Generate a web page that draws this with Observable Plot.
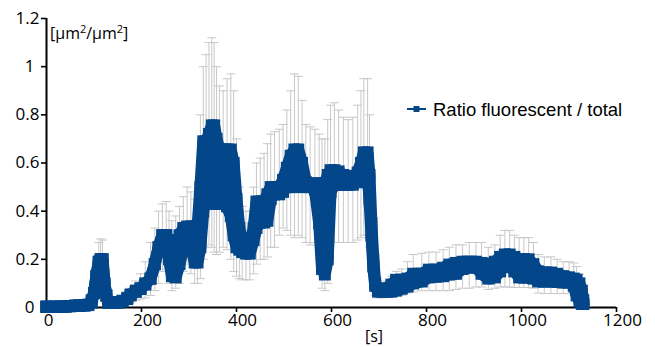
<!DOCTYPE html>
<html><head><meta charset="utf-8">
<script src="https://cdn.jsdelivr.net/npm/d3@7"></script>
<script src="https://cdn.jsdelivr.net/npm/@observablehq/plot@0.6"></script>
<style>
body{margin:0;background:#fff;}
#chart{position:relative;width:655px;height:347px;}
</style></head><body><div id="chart"></div>
<script>
// time [s]
const times = [0,10,20,30,40,50,60,70,80,88,95,100,105,110,114,118,122,126,130,140,150,160,170,177,188,198,208,219,228,236,244,252,258,264,272,280,288,296,304,312,318,324,330,336,342,348,353,358,364,372,380,388,394,400,406,412,420,428,436,442,450,458,465,472,480,490,498,506,514,522,530,538,546,555,565,574,580,586,592,598,606,615,625,635,645,655,662,668,676,680,684,688,692,698,706,716,726,736,748,760,772,790,805,820,835,848,862,876,890,904,916,930,944,955,965,975,985,995,1005,1015,1025,1035,1048,1062,1075,1088,1100,1110,1116,1122,1127,1130];
// lower and upper envelope of the plotted ratio series
const lows = [0.003,0.003,0.003,0.003,0.004,0.005,0.007,0.008,0.008,0.01,0.02,0.06,0.13,0.19,0.2,0.2,0.1,0.05,0.02,0.02,0.02,0.025,0.035,0.05,0.065,0.077,0.095,0.12,0.18,0.25,0.3,0.3,0.2,0.13,0.125,0.18,0.25,0.3,0.26,0.187,0.187,0.25,0.4,0.46,0.46,0.45,0.43,0.43,0.43,0.43,0.42,0.38,0.3,0.25,0.24,0.23,0.224,0.224,0.28,0.33,0.353,0.353,0.36,0.45,0.47,0.47,0.48,0.5,0.5,0.5,0.52,0.5,0.5,0.5,0.49,0.35,0.16,0.137,0.2,0.48,0.51,0.51,0.51,0.51,0.51,0.52,0.535,0.54,0.55,0.45,0.3,0.17,0.09,0.066,0.066,0.066,0.066,0.07,0.078,0.087,0.1,0.108,0.125,0.128,0.13,0.137,0.14,0.16,0.166,0.166,0.14,0.12,0.125,0.15,0.17,0.17,0.15,0.125,0.125,0.125,0.12,0.108,0.108,0.108,0.106,0.104,0.104,0.09,0.05,0.025,0.015,0.015];
const highs = [0.003,0.003,0.003,0.004,0.004,0.006,0.008,0.008,0.009,0.012,0.03,0.06,0.13,0.19,0.2,0.2,0.1,0.05,0.02,0.02,0.022,0.028,0.04,0.054,0.07,0.08,0.1,0.12,0.18,0.25,0.3,0.3,0.28,0.25,0.25,0.3,0.33,0.336,0.336,0.336,0.336,0.5,0.69,0.69,0.72,0.756,0.756,0.7,0.656,0.656,0.656,0.656,0.6,0.45,0.33,0.27,0.24,0.26,0.33,0.44,0.44,0.44,0.47,0.5,0.5,0.5,0.53,0.58,0.63,0.656,0.656,0.6,0.52,0.515,0.515,0.515,0.515,0.515,0.55,0.57,0.57,0.565,0.55,0.545,0.545,0.56,0.6,0.644,0.644,0.55,0.35,0.2,0.1,0.075,0.075,0.08,0.095,0.115,0.115,0.12,0.14,0.14,0.157,0.157,0.165,0.178,0.185,0.19,0.19,0.19,0.185,0.18,0.19,0.21,0.22,0.22,0.21,0.2,0.2,0.2,0.18,0.15,0.145,0.145,0.14,0.13,0.125,0.12,0.115,0.1,0.07,0.03];
// error bar ends
const errLows = [0,0,0,0,0,0,0,0,0,0,0.01,0.02,0.07,0.12,0.12,0.12,0.05,0.02,0.005,0.005,0.005,0.01,0.015,0.02,0.03,0.035,0.04,0.05,0.07,0.1,0.15,0.16,0.1,0.07,0.08,0.1,0.15,0.18,0.14,0.1,0.1,0.12,0.2,0.25,0.26,0.25,0.23,0.22,0.23,0.25,0.24,0.2,0.15,0.13,0.12,0.115,0.115,0.115,0.14,0.18,0.2,0.2,0.21,0.25,0.25,0.3,0.33,0.32,0.3,0.29,0.3,0.29,0.27,0.26,0.27,0.2,0.08,0.07,0.1,0.27,0.27,0.27,0.27,0.27,0.27,0.28,0.29,0.3,0.3,0.25,0.15,0.09,0.05,0.04,0.04,0.045,0.045,0.05,0.05,0.06,0.065,0.07,0.07,0.07,0.07,0.07,0.075,0.08,0.08,0.085,0.085,0.075,0.08,0.085,0.085,0.085,0.083,0.083,0.083,0.083,0.08,0.06,0.058,0.058,0.058,0.058,0.058,0.05,0.03,0.01,0.005,0.005];
const errHighs = [0.006,0.006,0.006,0.007,0.008,0.01,0.012,0.013,0.014,0.02,0.05,0.1,0.2,0.27,0.285,0.28,0.16,0.08,0.035,0.035,0.04,0.045,0.06,0.08,0.11,0.14,0.19,0.27,0.33,0.4,0.43,0.44,0.4,0.36,0.38,0.42,0.46,0.5,0.48,0.45,0.47,0.8,1.0,1.05,1.1,1.12,1.1,1.0,0.92,0.9,0.95,0.97,0.9,0.7,0.5,0.42,0.4,0.4,0.5,0.6,0.62,0.64,0.68,0.72,0.73,0.74,0.76,0.82,0.9,0.97,0.96,0.86,0.76,0.75,0.74,0.72,0.7,0.7,0.78,0.84,0.85,0.82,0.79,0.78,0.79,0.84,0.9,0.95,0.95,0.8,0.5,0.3,0.15,0.1,0.1,0.11,0.13,0.15,0.16,0.19,0.22,0.225,0.23,0.23,0.24,0.25,0.26,0.26,0.27,0.27,0.27,0.25,0.26,0.3,0.32,0.32,0.3,0.29,0.29,0.29,0.27,0.22,0.21,0.21,0.2,0.19,0.19,0.185,0.17,0.14,0.1,0.05];

const xTicks = [0,200,400,600,800,1000,1200];
const yTicks = [0,0.2,0.4,0.6,0.8,1,1.2];
const seriesName = "Ratio fluorescent / total";
const xLabel = "[s]";
const yLabelParts = ["[μm", "2", "/μm", "2", "]"];

const data = times.map((t,i)=>({t, lo:lows[i], hi:highs[i], eLo:errLows[i], eHi:errHighs[i]}));
const blue = "#03468a";
const gray = "#c8c8c8";
const cap = {draw(ctx, size){const w=Math.sqrt(size/Math.PI); ctx.moveTo(-w,0); ctx.lineTo(w,0);}};
const tickFont = "'Open Sans', sans-serif";
const sq = 12 / Math.sqrt(Math.PI);

const plot = Plot.plot({
  width:655, height:347, marginLeft:46, marginRight:39, marginTop:18, marginBottom:40,
  x:{domain:[0,1200]}, y:{domain:[0,1.2]},
  style:{fontFamily:tickFont, fontSize:"17px", color:"#000", background:"#fff", overflow:"visible"},
  marks:[
    Plot.axisX(xTicks, {tickSize:5, strokeWidth:1.6, tickFormat:()=>"", label:null}),
    Plot.axisY(yTicks, {tickSize:5, strokeWidth:1.6, tickFormat:()=>"", label:null}),
    Plot.ruleY([0], {strokeWidth:2}),
    Plot.ruleX([0], {strokeWidth:2}),
    Plot.text(xTicks.slice(0,1), {x:d=>d, frameAnchor:"bottom", dy:18, dx:2, text:d=>String(d), fontSize:17}),
    Plot.text(xTicks.slice(1), {x:d=>d, frameAnchor:"bottom", dy:18, dx:6, text:d=>String(d), fontSize:17}),
    Plot.text(yTicks.filter(d=>d!==0&&d!==1), {y:d=>d, frameAnchor:"left", textAnchor:"end", dx:-7, text:d=>String(d), fontSize:17}),
    Plot.text(yTicks.filter(d=>d===0||d===1), {y:d=>d, frameAnchor:"left", textAnchor:"end", dx:-12, text:d=>String(d), fontSize:17}),
    Plot.ruleX(data, {x:"t", y1:"eLo", y2:"eHi", stroke:gray, strokeWidth:1}),
    Plot.dot(data, {x:"t", y:"eHi", symbol:cap, r:4.5, stroke:gray, fill:"none", strokeWidth:1}),
    Plot.dot(data, {x:"t", y:"eLo", symbol:cap, r:4.5, stroke:gray, fill:"none", strokeWidth:1}),
    Plot.areaY(data, {x:"t", y1:"lo", y2:"hi", fill:blue}),
    Plot.line(data, {x:"t", y:"hi", stroke:blue, strokeWidth:12, strokeLinecap:"square", strokeLinejoin:"bevel"}),
    Plot.line(data, {x:"t", y:"lo", stroke:blue, strokeWidth:12, strokeLinecap:"square", strokeLinejoin:"bevel"}),
    Plot.dot(data, {x:"t", y:"hi", symbol:"square", r:sq, fill:blue, stroke:"none"}),
    Plot.dot(data, {x:"t", y:"lo", symbol:"square", r:sq, fill:blue, stroke:"none"})
  ]
});
document.getElementById("chart").appendChild(plot);

const svg = d3.select(plot);
// axis titles
const yl = svg.append("text").attr("x",50).attr("y",39).attr("text-anchor","start").attr("font-family",tickFont).attr("font-size",16).attr("fill","#000");
yLabelParts.forEach((p,i)=>{
  const sup = i===1 || i===3;
  yl.append("tspan").attr("dy", sup ? -6 : (i>0 ? 6 : 0)).attr("font-size", sup ? 11 : 16).text(p);
});
svg.append("text").attr("x",374).attr("y",342).attr("text-anchor","middle").attr("font-family",tickFont).attr("font-size",16).attr("fill","#000").text(xLabel);
// legend
const lg = svg.append("g");
lg.append("line").attr("x1",407).attr("x2",426).attr("y1",109).attr("y2",109).attr("stroke",blue).attr("stroke-width",2);
lg.append("rect").attr("x",413.5).attr("y",106).attr("width",6).attr("height",6).attr("fill",blue);
lg.append("text").attr("x",433).attr("y",109).attr("dy","0.36em").attr("text-anchor","start").attr("font-family","'Liberation Sans', Arial, sans-serif").attr("font-size",18.5).attr("fill","#000").text(seriesName);
</script></body></html>
